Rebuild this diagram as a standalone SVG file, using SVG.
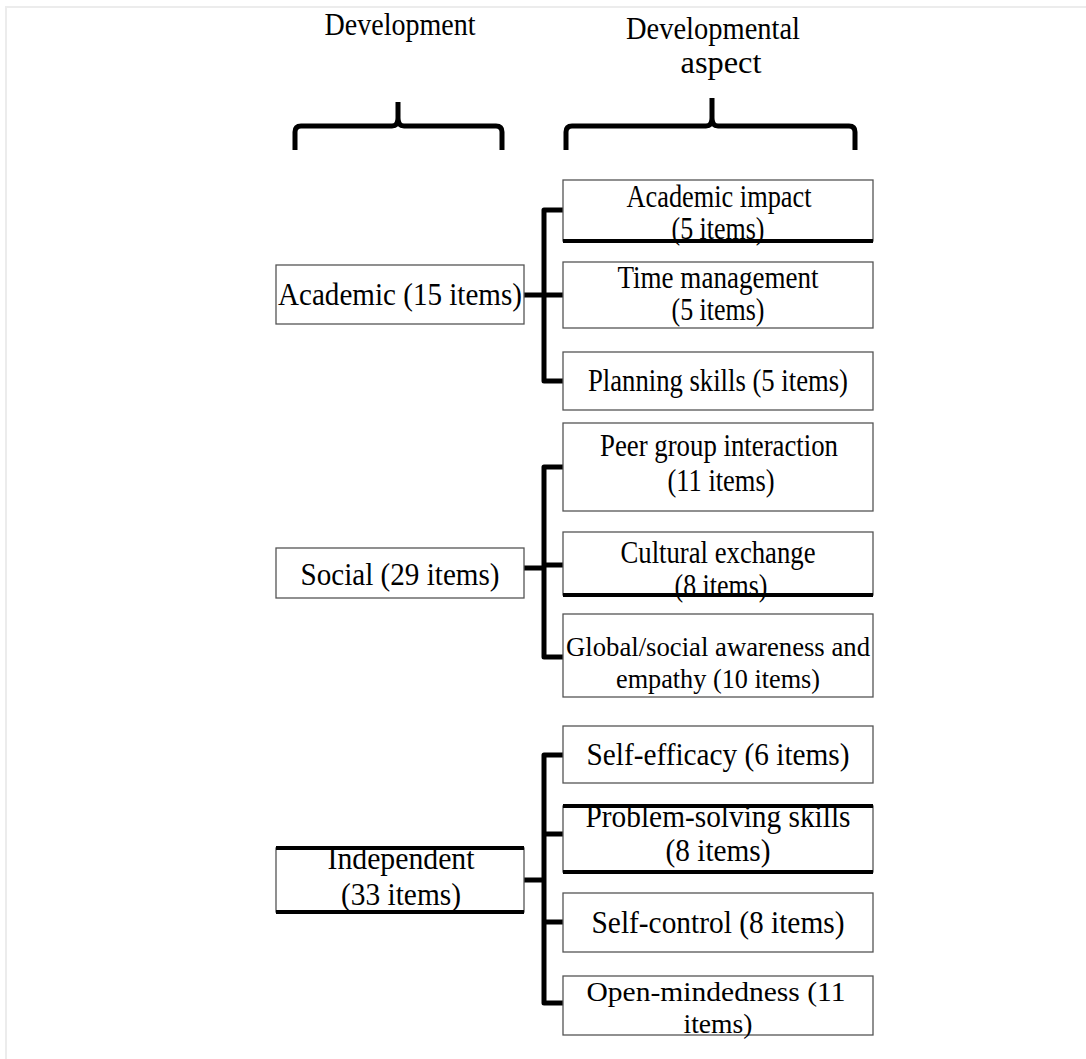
<svg xmlns="http://www.w3.org/2000/svg" width="1086" height="1059" viewBox="0 0 1086 1059">
<style>
.t{font-family:"Liberation Serif","Times New Roman",serif;font-size:31px;fill:#000;text-anchor:middle}
.h{font-size:32px}
.s{font-size:28px}
.box{fill:#fff;stroke:#555;stroke-width:1.3}
.thick{stroke:#000;stroke-width:4;fill:none}
.conn{fill:none;stroke:#000;stroke-width:5;stroke-linejoin:round}
.brace{fill:none;stroke:#000;stroke-width:5;stroke-linejoin:round;stroke-linecap:butt}
</style>
<rect x="0" y="0" width="1086" height="1059" fill="#fff"/>
<path d="M6 1059 V7 H1086" fill="none" stroke="#ececec" stroke-width="2"/>

<g id="headers">
<text class="t h" x="400" y="35" textLength="151" lengthAdjust="spacingAndGlyphs">Development</text>
<text class="t h" x="713" y="39" textLength="174" lengthAdjust="spacingAndGlyphs">Developmental</text>
<text class="t h" x="721" y="73" textLength="81" lengthAdjust="spacingAndGlyphs">aspect</text>
</g>

<g id="braces">
<path class="brace" d="M295 150 V132 Q295 126 301 126 H392 Q398 126 398 118 V102 M398 118 Q398 126 404 126 H496 Q502 126 502 132 V150"/>
<path class="brace" d="M566 150 V132 Q566 126 572 126 H706 Q712 126 712 118 V98 M712 118 Q712 126 718 126 H849 Q855 126 855 132 V150"/>
</g>

<g id="connectors">
<path class="conn" d="M563 210 H544 V381 H563"/>
<path class="conn" d="M524 295 H563"/>
<path class="conn" d="M563 467 H544 V657 H563"/>
<path class="conn" d="M524 568 H544 M544 565 H563"/>
<path class="conn" d="M563 755 H544 V1003 H563"/>
<path class="conn" d="M524 880 H544 M544 834 H563 M544 922 H563"/>
</g>

<g id="n-academic">
<rect class="box" x="276" y="265" width="248" height="59"/>
<text class="t" x="400" y="305" textLength="244" lengthAdjust="spacingAndGlyphs">Academic (15 items)</text>
</g>
<g id="n-social">
<rect class="box" x="276" y="548" width="248" height="50"/>
<text class="t" x="400" y="585" textLength="199" lengthAdjust="spacingAndGlyphs">Social (29 items)</text>
</g>
<g id="n-independent">
<rect class="box" x="276" y="848" width="248" height="64"/>
<text class="t" x="401" y="869" textLength="147" lengthAdjust="spacingAndGlyphs">Independent</text>
<text class="t" x="401" y="905" textLength="120" lengthAdjust="spacingAndGlyphs">(33 items)</text>
<line class="thick" x1="276" y1="848" x2="524" y2="848"/>
<line class="thick" x1="276" y1="912" x2="524" y2="912" stroke-width="5"/>
</g>

<g id="n-academic-impact">
<rect class="box" x="563" y="180" width="310" height="61"/>
<text class="t" x="719" y="207" textLength="185" lengthAdjust="spacingAndGlyphs">Academic impact</text>
<text class="t" x="718" y="239" textLength="93" lengthAdjust="spacingAndGlyphs">(5 items)</text>
<line class="thick" x1="563" y1="241" x2="873" y2="241"/>
</g>
<g id="n-time">
<rect class="box" x="563" y="262" width="310" height="66"/>
<text class="t" x="718" y="288" textLength="201" lengthAdjust="spacingAndGlyphs">Time management</text>
<text class="t" x="718" y="320" textLength="93" lengthAdjust="spacingAndGlyphs">(5 items)</text>
</g>
<g id="n-planning">
<rect class="box" x="563" y="352" width="310" height="58"/>
<text class="t" x="718" y="391" textLength="260" lengthAdjust="spacingAndGlyphs">Planning skills (5 items)</text>
</g>

<g id="n-peer">
<rect class="box" x="563" y="423" width="310" height="88"/>
<text class="t" x="719" y="456" textLength="238" lengthAdjust="spacingAndGlyphs">Peer group interaction</text>
<text class="t" x="721" y="491" textLength="107" lengthAdjust="spacingAndGlyphs">(11 items)</text>
</g>
<g id="n-cultural">
<rect class="box" x="563" y="532" width="310" height="63"/>
<text class="t" x="718" y="563" textLength="195" lengthAdjust="spacingAndGlyphs">Cultural exchange</text>
<text class="t" x="721" y="596" textLength="93" lengthAdjust="spacingAndGlyphs">(8 items)</text>
<line class="thick" x1="563" y1="595" x2="873" y2="595"/>
</g>
<g id="n-global">
<rect class="box" x="563" y="614" width="310" height="83"/>
<text class="t s" x="718" y="656" textLength="304" lengthAdjust="spacingAndGlyphs">Global/social awareness and</text>
<text class="t s" x="718" y="688" textLength="204" lengthAdjust="spacingAndGlyphs">empathy (10 items)</text>
</g>

<g id="n-selfefficacy">
<rect class="box" x="563" y="726" width="310" height="57"/>
<text class="t" x="718" y="765" textLength="263" lengthAdjust="spacingAndGlyphs">Self-efficacy (6 items)</text>
</g>
<g id="n-problem">
<rect class="box" x="563" y="806" width="310" height="66"/>
<text class="t" x="718" y="827" textLength="265" lengthAdjust="spacingAndGlyphs">Problem-solving skills</text>
<text class="t" x="718" y="861" textLength="105" lengthAdjust="spacingAndGlyphs">(8 items)</text>
<line class="thick" x1="563" y1="806" x2="873" y2="806"/>
<line class="thick" x1="563" y1="872" x2="873" y2="872" stroke-width="6"/>
</g>
<g id="n-selfcontrol">
<rect class="box" x="563" y="893" width="310" height="59"/>
<text class="t" x="718" y="933" textLength="253" lengthAdjust="spacingAndGlyphs">Self-control (8 items)</text>
</g>
<g id="n-open">
<rect class="box" x="563" y="976" width="310" height="59"/>
<text class="t s" x="716" y="1001" textLength="259" lengthAdjust="spacingAndGlyphs">Open-mindedness (11</text>
<text class="t s" x="718" y="1033" textLength="69" lengthAdjust="spacingAndGlyphs">items)</text>
</g>
</svg>
